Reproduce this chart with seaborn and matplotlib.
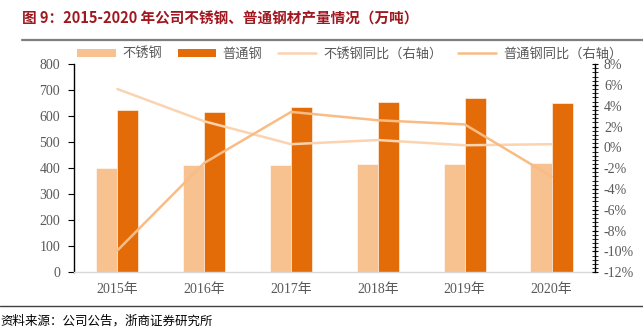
import numpy as np
import pandas as pd
import matplotlib
matplotlib.use("Agg")
import matplotlib.pyplot as plt
import seaborn as sns
from matplotlib.patches import Patch
from matplotlib.lines import Line2D
from matplotlib.ticker import MultipleLocator, FuncFormatter

years = ["2015年", "2016年", "2017年", "2018年", "2019年", "2020年"]
stainless = [400, 411, 412, 416, 417, 418]
ordinary = [623, 614, 636, 653, 668, 649]
stainless_yoy = [5.6, 2.5, 0.3, 0.7, 0.2, 0.3]
ordinary_yoy = [-9.9, -1.5, 3.4, 2.6, 2.2, -2.8]
series_names = ["不锈钢", "普通钢", "不锈钢同比（右轴）", "普通钢同比（右轴）"]

sns.set_theme(style="white")
plt.rcParams["font.family"] = ["Noto Sans CJK SC", "DejaVu Sans"]

c_light = "#F8C190"
c_dark = "#E36C09"
c_line1 = "#FBD3B0"
c_line2 = "#F9BC85"
tick_color = "#595959"
num_font = ["Liberation Serif", "Noto Sans CJK SC"]

df = pd.DataFrame({
    "year": years * 2,
    "value": stainless + ordinary,
    "series": [series_names[0]] * len(years) + [series_names[1]] * len(years),
})

fig = plt.figure(figsize=(6.43, 3.31), dpi=100)
ax = fig.add_axes([0.1151, 0.1773, 0.8102, 0.6293])

sns.barplot(data=df, x="year", y="value", hue="series",
            palette=[c_light, c_dark], saturation=1, width=0.485, ax=ax,
            edgecolor="white", linewidth=0.4, legend=False)
ax.set_ylim(0, 800)
ax.set_xlim(-0.5, len(years) - 0.5)
ax.yaxis.set_major_locator(MultipleLocator(100))
ax.set_xlabel("")
ax.set_ylabel("")
for s in ["top", "right"]:
    ax.spines[s].set_visible(False)
ax.spines["left"].set_color("black")
ax.spines["left"].set_linewidth(1.0)
ax.spines["bottom"].set_color("#D9D9D9")
ax.spines["bottom"].set_linewidth(1.0)
ax.tick_params(axis="y", which="major", direction="out", length=4, width=0.8,
               color="black", labelcolor=tick_color, labelsize=10, left=True, pad=6,
               labelfontfamily=num_font)
ax.tick_params(axis="x", length=0, labelcolor=tick_color, labelsize=10, pad=8,
               labelfontfamily=num_font)

ax2 = ax.twinx()
xpos = np.arange(len(years))
sns.lineplot(x=xpos, y=stainless_yoy, ax=ax2, color=c_line1, linewidth=1.8)
sns.lineplot(x=xpos, y=ordinary_yoy, ax=ax2, color=c_line2, linewidth=1.8)
ax2.set_ylim(-12, 8)
ax2.yaxis.set_major_locator(MultipleLocator(2))
ax2.yaxis.set_minor_locator(MultipleLocator(0.4))
ax2.yaxis.set_major_formatter(FuncFormatter(lambda v, p: f"{v:.0f}%"))
for s in ["top", "left", "bottom"]:
    ax2.spines[s].set_visible(False)
ax2.spines["right"].set_color("black")
ax2.spines["right"].set_linewidth(1.0)
ax2.tick_params(axis="y", which="major", direction="inout", length=5, width=0.8,
                color="black", labelcolor=tick_color, labelsize=10, right=True, pad=4,
                labelfontfamily=num_font)
ax2.tick_params(axis="y", which="minor", direction="inout", length=4, width=0.6,
                color="black", right=True)
ax2.set_ylabel("")

handles = [
    Patch(facecolor=c_light, edgecolor="none"),
    Patch(facecolor=c_dark, edgecolor="none"),
    Line2D([0], [0], color=c_line1, linewidth=1.8),
    Line2D([0], [0], color=c_line2, linewidth=1.8),
]
leg = fig.legend(handles, series_names, ncol=4, loc="center left",
                 bbox_to_anchor=(0.112, 0.837), frameon=False,
                 fontsize=9.5, handlelength=2.9, handleheight=0.55,
                 columnspacing=1.2, handletextpad=0.5, borderaxespad=0)
for t in leg.get_texts():
    t.set_color(tick_color)

fig.text(0.034, 0.945, "图 9：2015-2020 年公司不锈钢、普通钢材产量情况（万吨）",
         color="#A0171F", fontsize=10.5, fontweight="bold", va="center", ha="left")
fig.add_artist(Line2D([0.034, 1.0], [0.878, 0.878], color="#7F7F7F", linewidth=1.6,
                      transform=fig.transFigure))
fig.add_artist(Line2D([0.0, 1.0], [0.076, 0.076], color="#404040", linewidth=1.0,
                      transform=fig.transFigure))
fig.text(0.0, 0.03, "资料来源：公司公告，浙商证券研究所", color="black",
         fontsize=9, va="center", ha="left")

fig.savefig("out.png", dpi=100)
